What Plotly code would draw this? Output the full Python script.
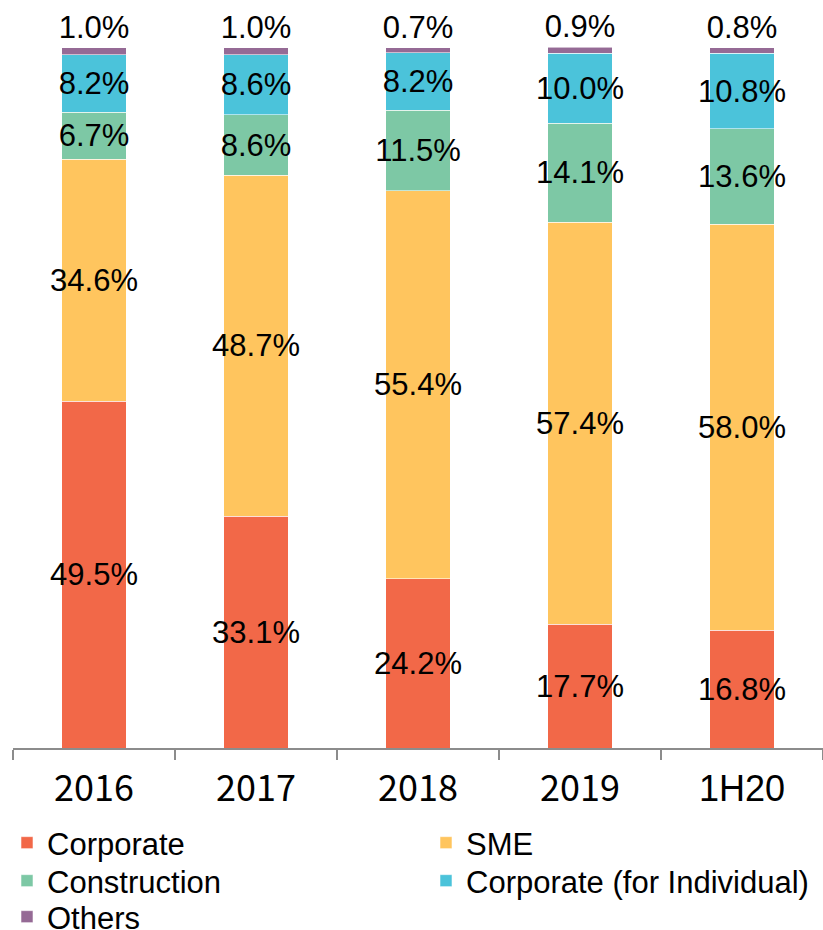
import plotly.graph_objects as go

categories = ['2016', '2017', '2018', '2019', '1H20']
tick_labels = ['2016', '2017', '2018', '2019', '1H20']
corporate = [49.5, 33.1, 24.2, 17.7, 16.8]
sme = [34.6, 48.7, 55.4, 57.4, 58.0]
construction = [6.7, 8.6, 11.5, 14.1, 13.6]
corp_indiv = [8.2, 8.6, 8.2, 10.0, 10.8]
others = [1.0, 1.0, 0.7, 0.9, 0.8]

series = [
    ('Corporate', corporate, '#F26848', 'legend'),
    ('SME', sme, '#FFC55E', 'legend2'),
    ('Construction', construction, '#7DC8A5', 'legend3'),
    ('Corporate (for Individual)', corp_indiv, '#4BC3DA', 'legend4'),
    ('Others', others, '#956A95', 'legend5'),
]

LABEL_FONT = dict(family='Arial, Liberation Sans', size=31, color='black')

fig = go.Figure()
for i, (name, vals, color, leg) in enumerate(series):
    last = i == len(series) - 1
    fig.add_trace(go.Bar(
        name=name, x=categories, y=vals, legend=leg,
        marker=dict(color=color, line=dict(color='rgba(255,255,255,0.55)', width=1)),
        texttemplate='%{y:.1f}%',
        textposition='outside' if last else 'inside',
        insidetextanchor='middle',
        textangle=0,
        constraintext='none',
        cliponaxis=False,
        textfont=LABEL_FONT,
        insidetextfont=LABEL_FONT,
        outsidetextfont=LABEL_FONT,
        hoverinfo='skip',
    ))

tick_text = [t if t[0] == '2' else '<span style="font-family:Arial, Liberation Sans">%s</span>' % t
             for t in tick_labels]

totals = [sum(v) for v in zip(corporate, sme, construction, corp_indiv, others)]
ymax = max(totals)

W, H = 823, 930
legend_pos = {
    'legend': (7, 843), 'legend2': (426, 843),
    'legend3': (7, 881), 'legend4': (426, 881),
    'legend5': (7, 917),
}
legend_layout = {}
for key, (px, py) in legend_pos.items():
    legend_layout[key] = dict(
        xref='container', yref='container', x=px / W, y=1 - py / H,
        xanchor='left', yanchor='middle', orientation='h',
        font=dict(family='Arial, Liberation Sans', size=31, color='black'),
        bgcolor='rgba(0,0,0,0)', borderwidth=0, itemclick=False, itemdoubleclick=False,
    )

fig.update_layout(
    width=W, height=H,
    barmode='stack', bargap=0.6,
    margin=dict(l=13, r=0, t=47, b=182, pad=0),
    paper_bgcolor='white', plot_bgcolor='white',
    showlegend=True,
    xaxis=dict(
        type='category', tickmode='array', tickvals=categories, ticktext=tick_text,
        tickson='boundaries', ticks='outside', ticklen=10, tickwidth=1.5,
        tickcolor='#8C8C8C', showline=True, linecolor='#8C8C8C', linewidth=1.5,
        tickfont=dict(family='Noto Sans CJK KR', size=36, color='black'),
        ticklabelstandoff=8, showgrid=False, zeroline=False, fixedrange=True,
        automargin=False,
    ),
    yaxis=dict(range=[0, ymax], visible=False, showgrid=False, zeroline=False,
               fixedrange=True, automargin=False),
    **legend_layout,
)

fig.write_html('out.html', config={'displayModeBar': False},
               post_script="document.body.style.margin='0';")
